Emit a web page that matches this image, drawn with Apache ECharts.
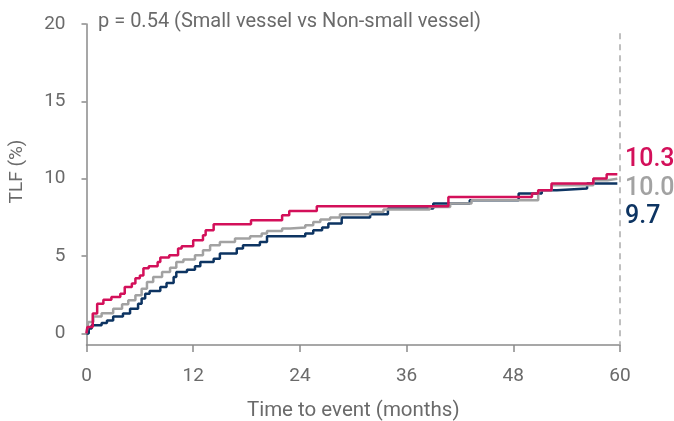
<!DOCTYPE html>
<html>
<head>
<meta charset="utf-8">
<script src="https://cdn.jsdelivr.net/npm/echarts@6/dist/echarts.min.js"></script>
<style>html,body{margin:0;padding:0;background:#fff;}#chart{width:674px;height:421px;}</style>
</head>
<body>
<div id="chart"></div>
<script>
// Time (months) at which each step begins, and cumulative TLF (%) from that time
const magentaT = [0, 0.09, 0.7, 1.2, 1.9, 2.8, 3.8, 4.3, 5.1, 5.5, 6.0, 6.4, 7.0, 8.0, 8.3, 9.3, 10.3, 10.7, 12.0, 13.1, 13.4, 14.3, 18.5, 22.0, 22.8, 25.9, 40.7, 50.1, 50.8, 52.3, 57.0, 58.5, 59.7];
const magentaV = [0, 0.41, 1.29, 1.92, 2.18, 2.35, 2.57, 3.0, 3.22, 3.56, 3.75, 4.21, 4.34, 4.61, 4.9, 5.05, 5.48, 5.63, 6.02, 6.34, 6.67, 7.06, 7.31, 7.64, 7.92, 8.22, 8.82, 9.04, 9.26, 9.69, 10.01, 10.29, 10.29];

const grayT = [0, 0.2, 0.77, 1.7, 3.0, 4.0, 4.7, 5.5, 6.2, 6.8, 7.5, 8.5, 9.4, 10.1, 10.9, 12.2, 13.1, 13.9, 15.0, 16.7, 18.4, 19.7, 20.3, 22.0, 22.9, 24.6, 25.5, 26.3, 27.4, 28.5, 31.9, 33.4, 38.6, 40.9, 43.3, 50.8, 52.3, 57.0, 58.6, 59.7];
const grayV = [0, 0.73, 1.1, 1.31, 1.6, 1.88, 2.14, 2.46, 2.89, 3.32, 3.64, 3.97, 4.25, 4.61, 4.77, 5.05, 5.37, 5.7, 5.91, 6.13, 6.28, 6.45, 6.62, 6.78, 6.84, 6.99, 7.2, 7.36, 7.49, 7.7, 7.85, 8.01, 8.17, 8.39, 8.61, 9.26, 9.58, 9.9, 10.0, 10.0];

const navyT = [0, 0.25, 0.58, 1.7, 2.3, 3.0, 4.1, 4.9, 5.8, 6.2, 6.6, 7.1, 8.3, 9.0, 9.8, 10.1, 11.3, 12.2, 12.8, 14.3, 15.0, 16.9, 17.6, 19.5, 20.3, 24.6, 25.5, 26.5, 27.2, 28.7, 31.9, 33.9, 39.0, 43.1, 48.6, 51.2, 52.9, 56.3, 59.7];
const navyV = [0, 0.32, 0.52, 0.67, 0.84, 1.1, 1.28, 1.6, 1.92, 2.25, 2.57, 2.74, 3.0, 3.26, 3.64, 3.97, 4.12, 4.34, 4.61, 4.83, 5.16, 5.48, 5.7, 5.91, 6.28, 6.45, 6.67, 6.84, 7.1, 7.49, 7.7, 8.07, 8.39, 8.61, 9.04, 9.26, 9.37, 9.69, 9.69];

const endLabels = ['10.3', '10.0', '9.7'];
const yTicks = [0, 5, 10, 15, 20];
const titleText = 'p = 0.54 (Small vessel vs Non-small vessel)';
// dashed reference line at end of follow-up: [x, yTop, yBottom]
const refLine = [60, 19.4, -0.75];

const colMagenta = '#d3105a', colGray = '#a2a2a2', colNavy = '#0d3462';
const axisCol = '#8a8a8a', txtCol = '#6a6a6a';
const FONT = 'Roboto';

function pairs(t, v) { return t.map((x, i) => [x, v[i]]); }

const chart = echarts.init(document.getElementById('chart'), null, {renderer: 'canvas'});
chart.setOption({
  animation: false,
  backgroundColor: '#fff',
  grid: {left: 86.5, right: 54, top: 24, bottom: 76, containLabel: false, outerBoundsMode: 'none'},
  xAxis: {
    type: 'value', min: 0, max: 60, interval: 12,
    axisLine: {show: true, onZero: false, lineStyle: {color: axisCol, width: 1.5}},
    axisTick: {show: true, length: 7, lineStyle: {color: axisCol, width: 1.5}},
    axisLabel: {color: txtCol, fontSize: 19, fontFamily: FONT, margin: 22},
    splitLine: {show: false},
    name: 'Time to event (months)', nameLocation: 'middle', nameGap: 55,
    nameTextStyle: {color: txtCol, fontSize: 20.5, fontFamily: FONT}
  },
  yAxis: {
    type: 'value', min: -0.75, max: 20,
    axisLine: {show: true, lineStyle: {color: axisCol, width: 1.5}},
    axisTick: {show: true, length: 5, customValues: yTicks, lineStyle: {color: axisCol, width: 1.5}},
    axisLabel: {color: txtCol, fontSize: 19, fontFamily: FONT, margin: 21, customValues: yTicks},
    splitLine: {show: false},
    name: 'TLF (%)', nameLocation: 'middle', nameGap: 60, nameRotate: 90,
    nameTextStyle: {color: txtCol, fontSize: 19, fontFamily: FONT, padding: [0, 0, 0, 26]}
  },
  graphic: [
    {type: 'text', left: 98, top: 12, style: {text: titleText, fill: txtCol, font: '20px ' + FONT}},
    {type: 'text', left: 625, top: 147, style: {text: endLabels[0], fill: colMagenta, font: '500 25px ' + FONT}},
    {type: 'text', left: 625, top: 176, style: {text: endLabels[1], fill: colGray, font: '500 25px ' + FONT}},
    {type: 'text', left: 625, top: 204, style: {text: endLabels[2], fill: colNavy, font: '500 25px ' + FONT}}
  ],
  series: [
    {
      type: 'line', step: 'end', showSymbol: false, data: pairs(navyT, navyV),
      lineStyle: {color: colNavy, width: 2.5}, z: 2,
      markLine: {silent: true, symbol: 'none', label: {show: false},
        lineStyle: {color: '#aaaaaa', type: [6, 5], width: 1.5},
        data: [[{coord: [refLine[0], refLine[1]]}, {coord: [refLine[0], refLine[2]]}]]}
    },
    {type: 'line', step: 'end', showSymbol: false, data: pairs(grayT, grayV), lineStyle: {color: colGray, width: 2.5}, z: 3},
    {type: 'line', step: 'end', showSymbol: false, data: pairs(magentaT, magentaV), lineStyle: {color: colMagenta, width: 2.5}, z: 4}
  ]
});
</script>
</body>
</html>
